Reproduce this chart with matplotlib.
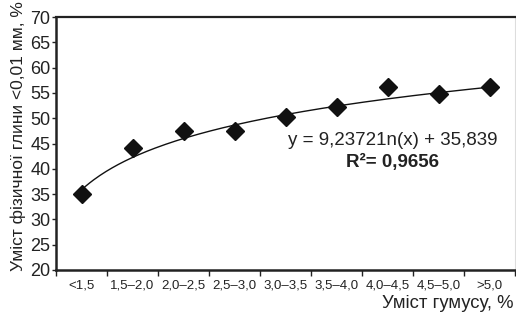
import matplotlib
matplotlib.use("Agg")
import numpy as np
import matplotlib.pyplot as plt

# ── Дані ──
categories = ["<1,5", "1,5–2,0", "2,0–2,5", "2,5–3,0", "3,0–3,5",
              "3,5–4,0", "4,0–4,5", "4,5–5,0", ">5,0"]
clay = [35.0, 44.2, 47.4, 47.4, 50.3, 52.3, 56.1, 54.8, 56.1]

# коефіцієнти логарифмічного тренду (з підпису на графіку)
trend_a = 9.2372
trend_b = 35.839

plt.rcParams["font.family"] = ["Liberation Sans", "DejaVu Sans"]

fig = plt.figure(figsize=(5.16, 3.24), dpi=100)
ax = fig.add_axes([56 / 516, 1 - 270 / 324, 459 / 516, 253 / 324])

x = np.arange(1, len(categories) + 1)
xs = np.linspace(1, len(categories), 200)
ax.plot(xs, trend_a * np.log(xs) + trend_b, color="#111111", lw=1.0, zorder=2)
ax.plot(x, clay, ls="none", marker="D", ms=9, color="#111111", zorder=3)

ax.set_xlim(0.5, len(categories) + 0.5)
ax.set_ylim(20, 70)
ax.set_yticks(np.arange(20, 71, 5))
ax.tick_params(axis="y", labelsize=13, length=3, width=1, pad=1, colors="#222222")

ax.set_xticks(x)
ax.set_xticklabels(categories, fontsize=9.5, color="#222222")
ax.set_xticks(np.arange(0.5, len(categories) + 1, 1), minor=True)
ax.tick_params(axis="x", which="major", length=0, pad=7)
ax.tick_params(axis="x", which="minor", length=4, width=1, colors="#222222")

for s in ["left", "bottom", "top"]:
    ax.spines[s].set_color("#222222")
ax.spines["left"].set_linewidth(1.8)
ax.spines["bottom"].set_linewidth(1.8)
ax.spines["top"].set_linewidth(1.6)
ax.spines["right"].set_color("#dddddd")
ax.spines["right"].set_linewidth(0.8)

ax.text(7.1, 45.6, "y = 9,23721n(x) + 35,839", fontsize=13.5,
        ha="center", va="center", color="#222222")
ax.text(7.1, 41.3, "R²= 0,9656", fontsize=13.5, fontweight="bold",
        ha="center", va="center", color="#222222")

fig.text(18 / 516, 1 - 136 / 324, "Уміст фізичної глини <0,01 мм, %",
         rotation=90, ha="center", va="center", fontsize=12.5, color="#222222")
fig.text(513 / 516, 1 - 303 / 324, "Уміст гумусу, %",
         ha="right", va="center", fontsize=13.3, color="#222222")

fig.savefig("out.png", dpi=100)
